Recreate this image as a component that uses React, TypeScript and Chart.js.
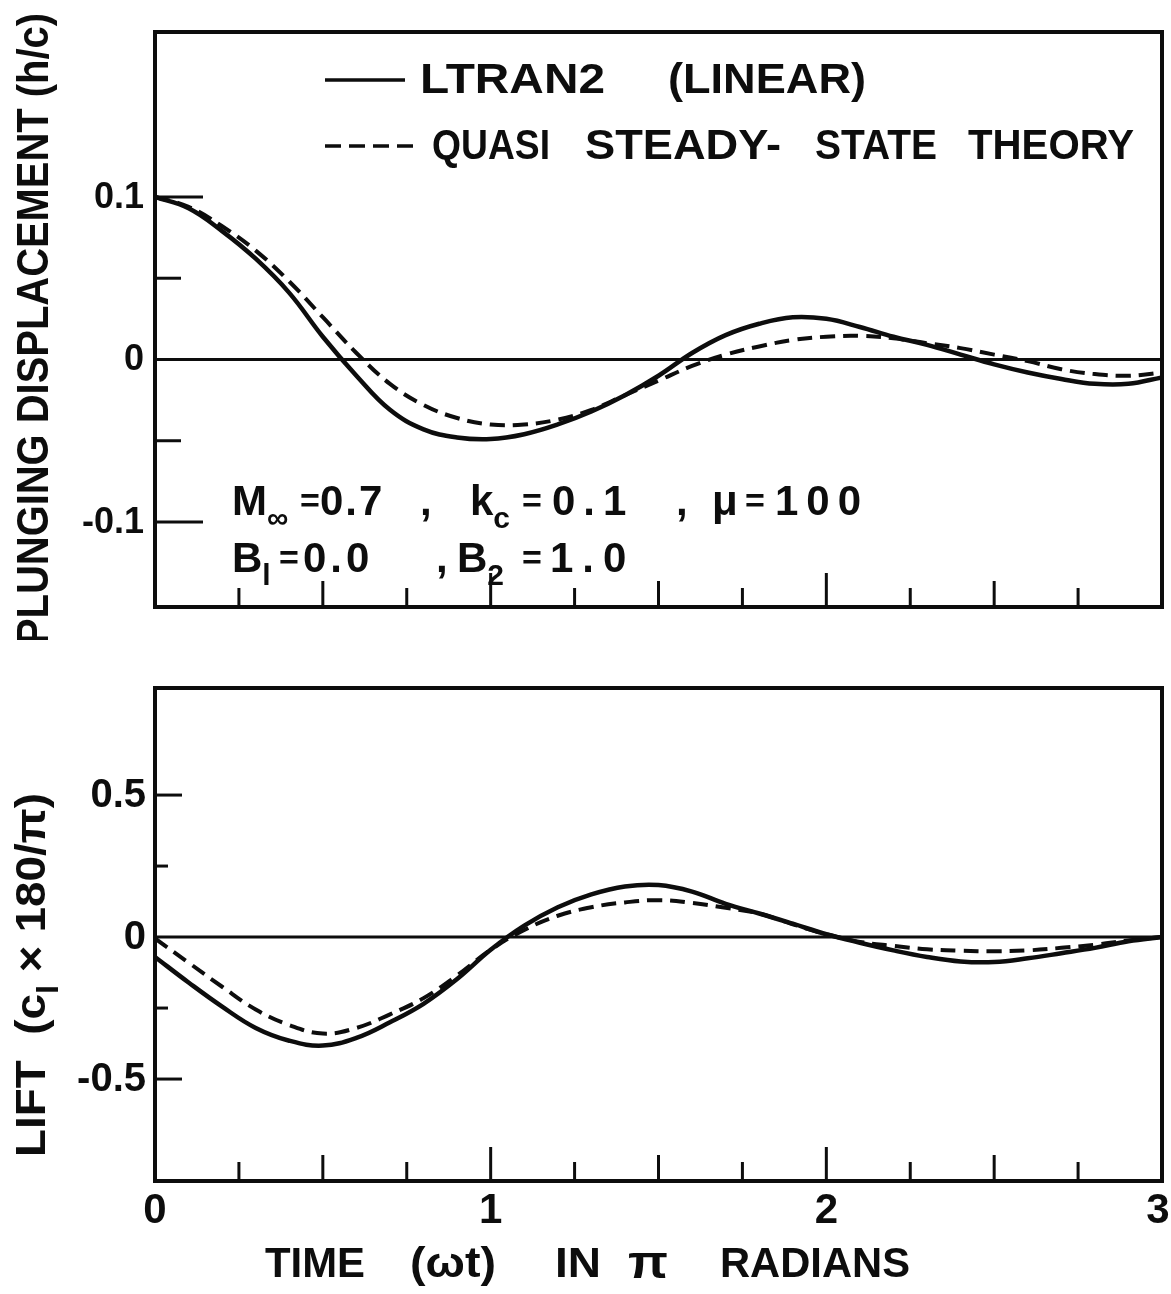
import React, { useEffect, useRef } from "react";
import { Chart, registerables } from "chart.js";

Chart.register(...registerables);

// Time axis (ωt in π radians)
const TIME = [
  0, 0.1, 0.2, 0.3, 0.4, 0.5, 0.6, 0.7, 0.8, 0.9, 1.0, 1.1, 1.2, 1.3, 1.4, 1.5,
  1.6, 1.7, 1.8, 1.9, 2.0, 2.1, 2.2, 2.3, 2.4, 2.5, 2.6, 2.7, 2.8, 2.9, 3.0,
];

// Plunging displacement h/c
const DISP_LTRAN2 = [
  0.1, 0.093, 0.079, 0.062, 0.041, 0.014, -0.01, -0.031, -0.043, -0.048, -0.049,
  -0.046, -0.04, -0.032, -0.022, -0.01, 0.004, 0.015, 0.022, 0.026, 0.025, 0.02,
  0.014, 0.009, 0.003, -0.003, -0.008, -0.012, -0.015, -0.015, -0.011,
];
const DISP_QUASI = [
  0.1, 0.094, 0.082, 0.067, 0.048, 0.026, 0.004, -0.015, -0.028, -0.036, -0.04,
  -0.04, -0.037, -0.031, -0.022, -0.013, -0.004, 0.003, 0.008, 0.012, 0.014,
  0.0145, 0.013, 0.01, 0.007, 0.003, -0.001, -0.006, -0.009, -0.01, -0.008,
];

// Lift cl x 180/π
const LIFT_LTRAN2 = [
  -0.07, -0.16, -0.245, -0.32, -0.365, -0.382, -0.355, -0.3, -0.235, -0.148,
  -0.045, 0.04, 0.105, 0.15, 0.178, 0.183, 0.16, 0.117, 0.083, 0.047, 0.01,
  -0.02, -0.047, -0.07, -0.086, -0.088, -0.075, -0.057, -0.038, -0.015, 0.0,
];
const LIFT_QUASI = [
  -0.005, -0.09, -0.175, -0.255, -0.31, -0.34, -0.32, -0.272, -0.215, -0.135,
  -0.045, 0.025, 0.075, 0.105, 0.122, 0.13, 0.12, 0.103, 0.083, 0.045, 0.01,
  -0.017, -0.031, -0.043, -0.048, -0.05, -0.047, -0.038, -0.027, -0.012, 0.0,
];

// Axis ticks and labels
const DISP_TICK_VALUES = [0.1, 0, -0.1];
const DISP_TICK_LABELS = ["0.1", "0", "-0.1"];
const DISP_MINOR_TICKS = [0.05, -0.05];
const LIFT_TICK_VALUES = [0.5, 0, -0.5];
const LIFT_TICK_LABELS = ["0.5", "0", "-0.5"];
const LIFT_MINOR_TICKS = [0.25, -0.25];
const TIME_TICK_VALUES = [0, 1, 2, 3];
const TIME_TICK_LABELS = ["0", "1", "2", "3"];
const TIME_MARKS = [0.25, 0.5, 0.75, 1, 1.25, 1.5, 1.75, 2, 2.25, 2.5, 2.75];

const INK = "#0d0d0d";
const FACE = '"Liberation Sans", Arial, sans-serif';
const font = (s: number) => `bold ${s}px ${FACE}`;

type Piece = { t: string; sub?: boolean };

// Draws a run of text pieces (with optional subscripts) starting at the origin,
// squeezed or stretched horizontally to `width` when given.
function drawRun(
  ctx: CanvasRenderingContext2D,
  pieces: Piece[],
  size: number,
  width?: number,
  align: "left" | "center" = "left"
) {
  const subSize = Math.round(size * 0.72);
  let total = 0;
  const widths = pieces.map((p) => {
    ctx.font = font(p.sub ? subSize : size);
    const w = ctx.measureText(p.t).width;
    total += w;
    return w;
  });
  const sx = width ? width / total : 1;
  ctx.save();
  ctx.scale(sx, 1);
  let x = align === "center" ? -total / 2 : 0;
  const base = size * 0.358;
  ctx.textAlign = "left";
  ctx.textBaseline = "alphabetic";
  pieces.forEach((p, i) => {
    ctx.font = font(p.sub ? subSize : size);
    ctx.fillText(p.t, x, base + (p.sub ? size * 0.3 : 0));
    x += widths[i];
  });
  ctx.restore();
}

function textAt(
  ctx: CanvasRenderingContext2D,
  pieces: Piece[] | string,
  x: number,
  y: number,
  size: number,
  width?: number
) {
  const list = typeof pieces === "string" ? [{ t: pieces }] : pieces;
  ctx.save();
  ctx.translate(x, y);
  drawRun(ctx, list, size, width);
  ctx.restore();
}

// Letter-spaced text, vertically centred on y
function spacedAt(
  ctx: CanvasRenderingContext2D,
  text: string,
  x: number,
  y: number,
  size: number,
  spacing: number
) {
  ctx.save();
  ctx.font = font(size);
  ctx.textAlign = "left";
  ctx.textBaseline = "alphabetic";
  let cx = x;
  for (const ch of text) {
    ctx.fillText(ch, cx, y + size * 0.358);
    cx += ctx.measureText(ch).width + spacing;
  }
  ctx.restore();
}

function verticalTitle(
  ctx: CanvasRenderingContext2D,
  pieces: Piece[],
  cx: number,
  cy: number,
  size: number,
  width: number
) {
  ctx.save();
  ctx.translate(cx, cy);
  ctx.rotate(-Math.PI / 2);
  drawRun(ctx, pieces, size, width, "center");
  ctx.restore();
}

function hLine(ctx: CanvasRenderingContext2D, x1: number, x2: number, y: number) {
  ctx.beginPath();
  ctx.moveTo(x1, y);
  ctx.lineTo(x2, y);
  ctx.stroke();
}

function timeMarkLength(t: number) {
  if (Number.isInteger(t)) return 34;
  if (Number.isInteger(t * 2)) return 26;
  return 19;
}

type FrameSpec = {
  major: number[];
  minor: number[];
  majorLen: number;
  minorLen: number;
  labels: string[];
  labelValues: number[];
  labelRight: number;
  labelSize: number;
};

// Frame, zero line, inward ticks and y tick labels for one panel
function drawFrame(chart: Chart, spec: FrameSpec) {
  const { ctx, chartArea: a } = chart;
  const x = chart.scales.x;
  const y = chart.scales.y;
  ctx.save();
  ctx.strokeStyle = INK;
  ctx.fillStyle = INK;
  ctx.lineCap = "butt";

  ctx.lineWidth = 3;
  hLine(ctx, a.left, a.right, y.getPixelForValue(0));

  ctx.lineWidth = 4;
  ctx.strokeRect(a.left, a.top, a.right - a.left, a.bottom - a.top);

  ctx.lineWidth = 3;
  spec.major.forEach((v) => hLine(ctx, a.left, a.left + spec.majorLen, y.getPixelForValue(v)));
  spec.minor.forEach((v) => hLine(ctx, a.left, a.left + spec.minorLen, y.getPixelForValue(v)));
  TIME_MARKS.forEach((t) => {
    const px = x.getPixelForValue(t);
    ctx.beginPath();
    ctx.moveTo(px, a.bottom);
    ctx.lineTo(px, a.bottom - timeMarkLength(t));
    ctx.stroke();
  });

  ctx.font = font(spec.labelSize);
  ctx.textAlign = "right";
  ctx.textBaseline = "middle";
  spec.labelValues.forEach((v, i) => {
    ctx.fillText(spec.labels[i], spec.labelRight, y.getPixelForValue(v) + 1);
  });
  ctx.restore();
}

const dispDecor = {
  id: "dispDecor",
  afterDatasetsDraw(chart: Chart) {
    drawFrame(chart, {
      major: [0.1, -0.1],
      minor: DISP_MINOR_TICKS,
      majorLen: 48,
      minorLen: 26,
      labels: DISP_TICK_LABELS,
      labelValues: DISP_TICK_VALUES,
      labelRight: 144,
      labelSize: 36,
    });
    const ctx = chart.ctx;
    ctx.save();
    ctx.strokeStyle = INK;
    ctx.fillStyle = INK;

    // legend
    ctx.lineWidth = 3.5;
    hLine(ctx, 325, 405, 80);
    ctx.setLineDash([16, 8]);
    hLine(ctx, 325, 417, 146);
    ctx.setLineDash([]);
    textAt(ctx, "LTRAN2", 420, 78, 42, 185);
    textAt(ctx, "(LINEAR)", 668, 78, 42, 198);
    textAt(ctx, "QUASI", 432, 144, 42, 118);
    textAt(ctx, "STEADY-", 585, 144, 42, 196);
    textAt(ctx, "STATE", 815, 144, 42, 122);
    textAt(ctx, "THEORY", 968, 144, 42, 166);

    // flow parameters
    textAt(ctx, [{ t: "M" }, { t: "∞", sub: true }], 232, 500, 42);
    textAt(ctx, "=", 300, 500, 34);
    spacedAt(ctx, "0.7", 320, 500, 42, 2);
    textAt(ctx, ",", 420, 500, 42);
    textAt(ctx, [{ t: "k" }, { t: "c", sub: true }], 470, 500, 42);
    textAt(ctx, "=", 522, 500, 34);
    spacedAt(ctx, "0.1", 552, 500, 42, 8);
    textAt(ctx, ",", 676, 500, 42);
    textAt(ctx, "μ", 712, 500, 42);
    textAt(ctx, "=", 745, 500, 34);
    spacedAt(ctx, "100", 775, 500, 42, 8);

    textAt(ctx, [{ t: "B" }, { t: "l", sub: true }], 232, 557, 42);
    textAt(ctx, "=", 279, 557, 34);
    spacedAt(ctx, "0.0", 303, 557, 42, 4);
    textAt(ctx, ",", 436, 557, 42);
    textAt(ctx, [{ t: "B" }, { t: "2", sub: true }], 457, 557, 42);
    textAt(ctx, "=", 522, 557, 34);
    spacedAt(ctx, "1.0", 550, 557, 42, 9);

    verticalTitle(ctx, [{ t: "PLUNGING DISPLACEMENT (h/c)" }], 32, 329, 44, 632);
    ctx.restore();
  },
};

const liftDecor = {
  id: "liftDecor",
  afterDatasetsDraw(chart: Chart) {
    drawFrame(chart, {
      major: [0.5, -0.5],
      minor: LIFT_MINOR_TICKS,
      majorLen: 27,
      minorLen: 13,
      labels: LIFT_TICK_LABELS,
      labelValues: LIFT_TICK_VALUES,
      labelRight: 146,
      labelSize: 40,
    });
    const ctx = chart.ctx;
    const x = chart.scales.x;
    ctx.save();
    ctx.fillStyle = INK;
    ctx.font = font(42);
    ctx.textAlign = "center";
    ctx.textBaseline = "middle";
    TIME_TICK_VALUES.forEach((v, i) => {
      const px = Math.min(x.getPixelForValue(v), 1158);
      ctx.fillText(TIME_TICK_LABELS[i], px, 571);
    });

    textAt(ctx, "TIME", 265, 622, 42, 100);
    textAt(ctx, "(ωt)", 410, 622, 42, 86);
    textAt(ctx, "IN", 555, 622, 42, 46);
    textAt(ctx, "π", 628, 622, 46, 40);
    textAt(ctx, "RADIANS", 720, 622, 42, 190);

    verticalTitle(
      ctx,
      [{ t: "LIFT  (c" }, { t: "l", sub: true }, { t: " × 180/π)" }],
      30,
      335,
      42,
      364
    );
    ctx.restore();
  },
};

function series(values: number[]) {
  return TIME.map((t, i) => ({ x: t, y: values[i] }));
}

function makeChart(
  canvas: HTMLCanvasElement,
  solid: number[],
  dashed: number[],
  yMin: number,
  yMax: number,
  padding: { left: number; right: number; top: number; bottom: number },
  decor: any
) {
  return new Chart(canvas, {
    type: "line",
    data: {
      datasets: [
        {
          label: "LTRAN2 (LINEAR)",
          data: series(solid),
          borderColor: INK,
          borderWidth: 4.5,
          pointRadius: 0,
          tension: 0.4,
          fill: false,
        },
        {
          label: "QUASI STEADY-STATE THEORY",
          data: series(dashed),
          borderColor: INK,
          borderWidth: 4,
          borderDash: [15, 8],
          pointRadius: 0,
          tension: 0.4,
          fill: false,
        },
      ],
    },
    options: {
      responsive: false,
      animation: false,
      devicePixelRatio: 1,
      layout: { padding },
      scales: {
        x: { type: "linear", min: 0, max: 3, display: false },
        y: { type: "linear", min: yMin, max: yMax, display: false },
      },
      plugins: {
        legend: { display: false },
        tooltip: { enabled: false },
      },
    },
    plugins: [decor],
  });
}

export default function App() {
  const topRef = useRef<HTMLCanvasElement>(null);
  const bottomRef = useRef<HTMLCanvasElement>(null);

  useEffect(() => {
    const top = makeChart(
      topRef.current!,
      DISP_LTRAN2,
      DISP_QUASI,
      -0.1523,
      0.2015,
      { left: 155, right: 9, top: 32, bottom: 33 },
      dispDecor
    );
    const bottom = makeChart(
      bottomRef.current!,
      LIFT_LTRAN2,
      LIFT_QUASI,
      -0.859,
      0.877,
      { left: 155, right: 9, top: 48, bottom: 113 },
      liftDecor
    );
    return () => {
      top.destroy();
      bottom.destroy();
    };
  }, []);

  return (
    <div
      style={{
        position: "absolute",
        left: 0,
        top: 0,
        width: 1171,
        height: 1294,
        background: "#fff",
      }}
    >
      <canvas
        ref={topRef}
        width={1171}
        height={640}
        style={{ position: "absolute", left: 0, top: 0, width: 1171, height: 640 }}
      />
      <canvas
        ref={bottomRef}
        width={1171}
        height={654}
        style={{ position: "absolute", left: 0, top: 640, width: 1171, height: 654 }}
      />
    </div>
  );
}
